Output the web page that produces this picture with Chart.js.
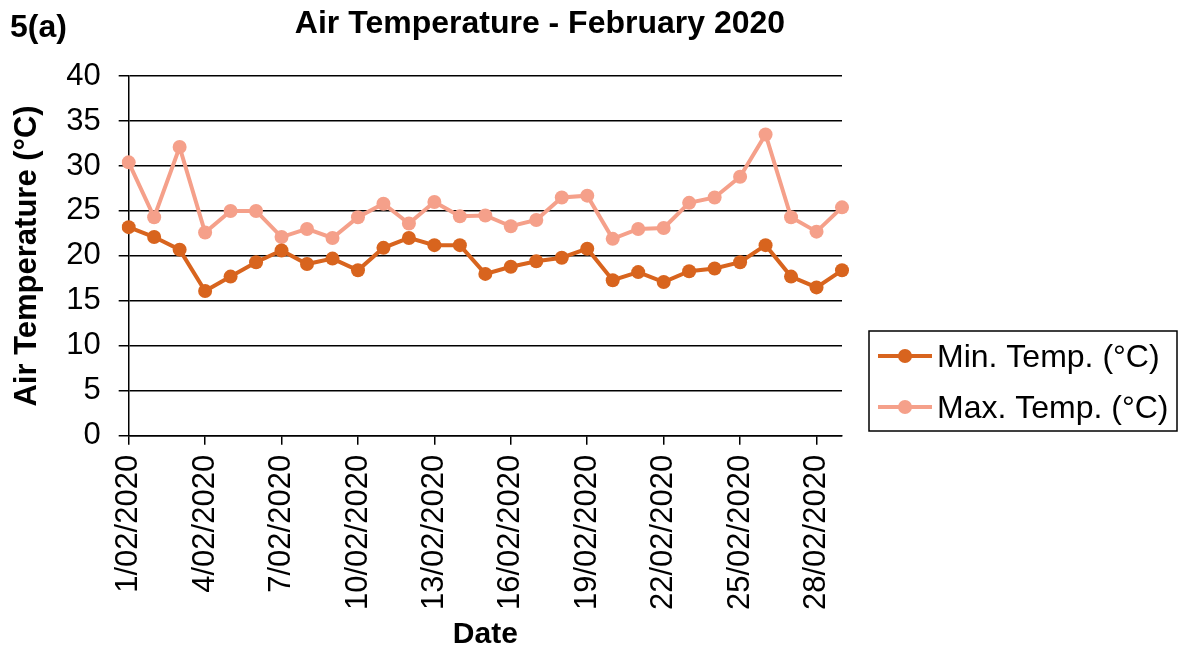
<!DOCTYPE html>
<html>
<head>
<meta charset="utf-8">
<script src="https://cdn.jsdelivr.net/npm/chart.js@4.4.1/dist/chart.umd.min.js"></script>
<style>
html,body{margin:0;padding:0;background:#fff;}
#wrap{width:1180px;height:656px;position:relative;}
</style>
</head>
<body>
<div id="wrap"><canvas id="c"></canvas></div>
<script>
const dates = ['1/02/2020','2/02/2020','3/02/2020','4/02/2020','5/02/2020','6/02/2020','7/02/2020','8/02/2020','9/02/2020','10/02/2020',
  '11/02/2020','12/02/2020','13/02/2020','14/02/2020','15/02/2020','16/02/2020','17/02/2020','18/02/2020','19/02/2020','20/02/2020',
  '21/02/2020','22/02/2020','23/02/2020','24/02/2020','25/02/2020','26/02/2020','27/02/2020','28/02/2020','29/02/2020'];
const minTemp = [23.2,22.1,20.7,16.1,17.7,19.3,20.6,19.1,19.7,18.4,20.9,22.0,21.2,21.2,18.0,18.8,19.4,19.8,20.8,17.3,18.2,17.1,18.3,18.6,19.3,21.2,17.7,16.5,18.4];
const maxTemp = [30.4,24.3,32.1,22.6,25.0,25.0,22.1,23.0,22.0,24.3,25.8,23.6,26.0,24.4,24.5,23.3,24.0,26.5,26.7,21.9,23.0,23.1,25.9,26.5,28.8,33.5,24.3,22.7,25.4];
const seriesNames = ['Min. Temp. (°C)','Max. Temp. (°C)'];
const yMin = 0, yMax = 40, yStep = 5;
const labelEvery = 3;
const chartTitle = 'Air Temperature - February 2020';
const panelLabel = '5(a)';

const FONT = '"Liberation Sans", Arial, sans-serif';
const COL_MIN = '#D8641E';
const COL_MAX = '#F5A08A';

const extras = {
  id: 'extras',
  afterDraw(chart) {
    const ctx = chart.ctx;
    ctx.save();
    ctx.fillStyle = '#000';
    ctx.textBaseline = 'alphabetic';
    ctx.font = 'bold 32px ' + FONT;
    ctx.textAlign = 'left';
    ctx.fillText(panelLabel, 10, 37);
    ctx.textAlign = 'center';
    ctx.fillText(chartTitle, 540, 33);
    // legend
    const bx = 869, by = 331, bw = 308, bh = 100;
    ctx.strokeStyle = '#000';
    ctx.lineWidth = 1.5;
    ctx.strokeRect(bx, by, bw, bh);
    const rows = [356, 407];
    chart.data.datasets.forEach((ds, i) => {
      const y = rows[i];
      ctx.strokeStyle = ds.borderColor;
      ctx.lineWidth = 4;
      ctx.beginPath(); ctx.moveTo(878, y); ctx.lineTo(932, y); ctx.stroke();
      ctx.fillStyle = ds.borderColor;
      ctx.beginPath(); ctx.arc(905, y, 7, 0, Math.PI*2); ctx.fill();
      ctx.fillStyle = '#000';
      ctx.font = '32px ' + FONT;
      ctx.textAlign = 'left';
      ctx.fillText(ds.label, 937, y + 11);
    });
    ctx.restore();
  }
};

new Chart(document.getElementById('c'), {
  type: 'line',
  data: {
    labels: dates,
    datasets: [
      {label: seriesNames[0], data: minTemp, borderColor: COL_MIN, backgroundColor: COL_MIN,
       pointBackgroundColor: COL_MIN, pointBorderColor: COL_MIN, borderWidth: 4, pointRadius: 7, pointBorderWidth: 0, tension: 0},
      {label: seriesNames[1], data: maxTemp, borderColor: COL_MAX, backgroundColor: COL_MAX,
       pointBackgroundColor: COL_MAX, pointBorderColor: COL_MAX, borderWidth: 4, pointRadius: 7, pointBorderWidth: 0, tension: 0}
    ]
  },
  options: {
    responsive: true,
    maintainAspectRatio: false,
    animation: false,
    layout: {padding: {top: 76, right: 338, left: 9, bottom: 4}},
    plugins: {legend: {display: false}, title: {display: false}, tooltip: {enabled: false}},
    scales: {
      x: {
        type: 'category',
        offset: false,
        grid: {
          drawOnChartArea: false, drawTicks: true, tickLength: 9, lineWidth: 1.5,
          color: (c) => (c.index % labelEvery === 0 ? '#000' : 'rgba(0,0,0,0)')
        },
        border: {display: true, color: '#000', width: 1.5},
        ticks: {
          autoSkip: false, maxRotation: 90, minRotation: 90, padding: 10, color: '#000',
          font: {size: 31, family: FONT},
          callback: (v, i) => (i % labelEvery === 0 ? dates[i] : '')
        },
        title: {display: true, text: 'Date', color: '#000', font: {size: 30, weight: 'bold', family: FONT, lineHeight: 1.0}, padding: {top: 0, bottom: 2}}
      },
      y: {
        min: yMin, max: yMax,
        grid: {color: '#000', lineWidth: 1.5, drawTicks: true, tickLength: 10},
        border: {display: true, color: '#000', width: 1.5},
        ticks: {stepSize: yStep, padding: 18, color: '#000', font: {size: 31, family: FONT}},
        title: {display: true, text: 'Air Temperature (°C)', color: '#000', font: {size: 31, weight: 'bold', family: FONT}, padding: {top: 0, bottom: 2}}
      }
    }
  },
  plugins: [extras]
});
</script>
</body>
</html>
